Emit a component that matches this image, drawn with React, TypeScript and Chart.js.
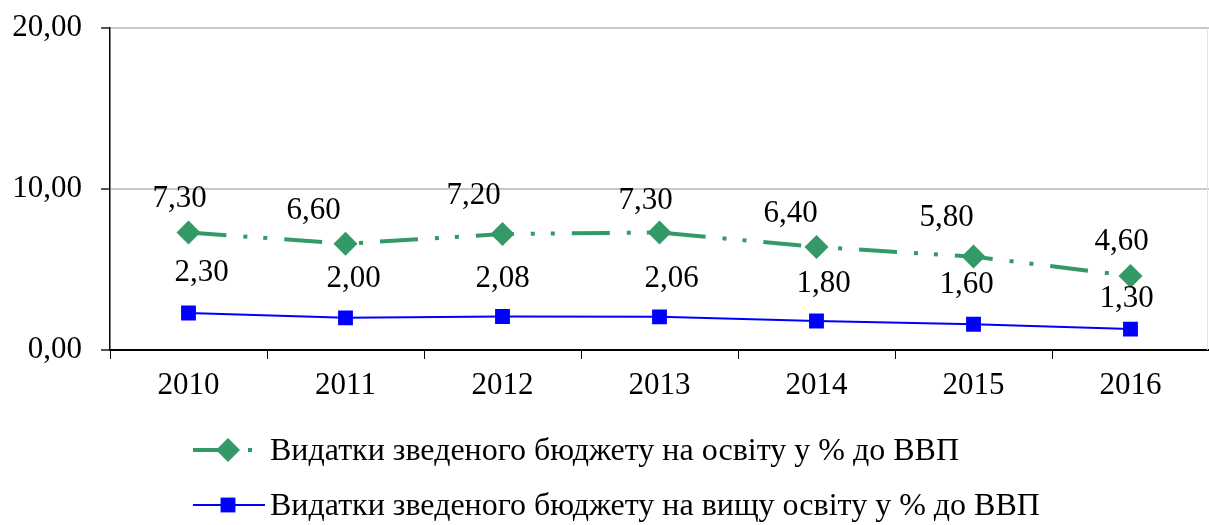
import React, { useEffect, useRef } from "react";
import { Chart, registerables } from "chart.js";

Chart.register(...registerables);

const years = ["2010", "2011", "2012", "2013", "2014", "2015", "2016"];
const educationShare = [7.3, 6.6, 7.2, 7.3, 6.4, 5.8, 4.6];
const higherEducationShare = [2.3, 2.0, 2.08, 2.06, 1.8, 1.6, 1.3];
const yTickValues = [0, 10, 20];
const seriesNames = [
  "Видатки зведеного бюджету на освіту у % до ВВП",
  "Видатки зведеного бюджету на вищу освіту у % до ВВП",
];

// label placement offsets (pixels, relative to each point)
const educationLabelOffsets = [
  [-9, -34], [-32, -33], [-29, -38], [-14, -32], [-26, -33], [-27, -39], [-9, -34],
];
const higherLabelOffsets = [
  [13, -40], [8, -39], [0, -38], [12, -38], [7, -37], [-7, -39], [-4, -30],
];

const FONT = '"Liberation Serif", "Times New Roman", serif';
const GREEN = "#339966";
const BLUE = "#0000ff";
const GREEN_DASH = [38, 17, 4, 16, 4, 17];

const fmt = (v: number) => v.toFixed(2).replace(".", ",");

const labelsPlugin = {
  id: "valueLabels",
  afterDatasetsDraw(chart: any) {
    const ctx = chart.ctx;
    ctx.save();
    ctx.font = `31px ${FONT}`;
    ctx.fillStyle = "#000";
    ctx.textAlign = "center";
    ctx.textBaseline = "middle";
    const offsets = [educationLabelOffsets, higherLabelOffsets];
    chart.data.datasets.forEach((ds: any, di: number) => {
      const meta = chart.getDatasetMeta(di);
      meta.data.forEach((pt: any, i: number) => {
        const off = offsets[di][i];
        ctx.fillText(fmt(ds.data[i]), pt.x + off[0], pt.y + off[1]);
      });
    });
    ctx.restore();
  },
};

const framePlugin = {
  id: "frameRight",
  afterDraw(chart: any) {
    const { ctx, chartArea } = chart;
    ctx.save();
    ctx.strokeStyle = "#e4e4e4";
    ctx.lineWidth = 1;
    ctx.beginPath();
    ctx.moveTo(chartArea.right - 1.5, chartArea.top);
    ctx.lineTo(chartArea.right - 1.5, chartArea.bottom);
    ctx.stroke();
    ctx.restore();
  },
};

const legendPlugin = {
  id: "customLegend",
  afterDraw(chart: any) {
    const ctx = chart.ctx;
    const rows = [450, 505];
    const x0 = 193;
    const x1 = 265;
    const mx = 228;
    ctx.save();
    chart.data.datasets.forEach((ds: any, di: number) => {
      const y = rows[di];
      ctx.strokeStyle = ds.borderColor;
      ctx.lineWidth = ds.borderWidth;
      ctx.setLineDash(ds.borderDash || []);
      ctx.beginPath();
      ctx.moveTo(x0, y);
      ctx.lineTo(x1, y);
      ctx.stroke();
      ctx.setLineDash([]);
      ctx.fillStyle = ds.pointBackgroundColor;
      ctx.beginPath();
      if (ds.pointStyle === "rectRot") {
        const r = ds.pointRadius;
        ctx.moveTo(mx, y - r);
        ctx.lineTo(mx + r, y);
        ctx.lineTo(mx, y + r);
        ctx.lineTo(mx - r, y);
        ctx.closePath();
      } else {
        const s = ds.pointRadius * Math.SQRT1_2;
        ctx.rect(mx - s, y - s, 2 * s, 2 * s);
      }
      ctx.fill();
      ctx.fillStyle = "#000";
      ctx.font = `32px ${FONT}`;
      ctx.textAlign = "left";
      ctx.textBaseline = "middle";
      ctx.fillText(ds.label, 270, y + 2);
    });
    ctx.restore();
  },
};

export default function App() {
  const ref = useRef<HTMLCanvasElement | null>(null);

  useEffect(() => {
    document.body.style.margin = "0";
    const canvas = ref.current;
    if (!canvas) return;
    const chart = new Chart(canvas, {
      type: "line",
      data: {
        labels: years,
        datasets: [
          {
            label: seriesNames[0],
            data: educationShare,
            borderColor: GREEN,
            borderWidth: 4,
            borderDash: GREEN_DASH,
            pointStyle: "rectRot",
            pointRadius: 12,
            pointBackgroundColor: GREEN,
            pointBorderWidth: 0,
            pointHoverRadius: 12,
            tension: 0,
          } as any,
          {
            label: seriesNames[1],
            data: higherEducationShare,
            borderColor: BLUE,
            borderWidth: 2,
            pointStyle: "rect",
            pointRadius: 10.5,
            pointBackgroundColor: BLUE,
            pointBorderWidth: 0,
            pointHoverRadius: 10.5,
            tension: 0,
          } as any,
        ],
      },
      options: {
        responsive: false,
        animation: false,
        layout: { autoPadding: false, padding: { top: 28, left: 0, right: 0, bottom: 0 } },
        plugins: {
          legend: { display: false },
          tooltip: { enabled: false },
        },
        scales: {
          x: {
            offset: true,
            grid: {
              offset: true,
              drawOnChartArea: false,
              drawTicks: true,
              tickLength: 9,
              color: "#000",
              lineWidth: 1,
            },
            border: { color: "#000", width: 2 },
            ticks: {
              color: "#000",
              font: { family: FONT, size: 31 },
              padding: 8,
              maxRotation: 0,
            },
            afterFit: (scale: any) => {
              scale.height = 175;
              scale.paddingLeft = 0;
              scale.paddingRight = 0;
            },
          },
          y: {
            min: 0,
            max: 20,
            afterBuildTicks: (scale: any) => {
              scale.ticks = yTickValues.map((v) => ({ value: v }));
            },
            grid: {
              color: "#c8c8c8",
              lineWidth: 2,
              tickColor: "#555",
              tickLength: 9,
            },
            border: { color: "#000", width: 1.5 },
            ticks: {
              color: "#000",
              font: { family: FONT, size: 31 },
              padding: 19,
              callback: (v: any) => fmt(Number(v)),
            },
            afterFit: (scale: any) => {
              scale.width = 110;
              scale.paddingTop = 0;
              scale.paddingBottom = 0;
            },
          },
        },
      },
      plugins: [labelsPlugin, framePlugin, legendPlugin],
    });
    return () => chart.destroy();
  }, []);

  return <canvas ref={ref} width={1209} height={525} style={{ display: "block" }} />;
}
